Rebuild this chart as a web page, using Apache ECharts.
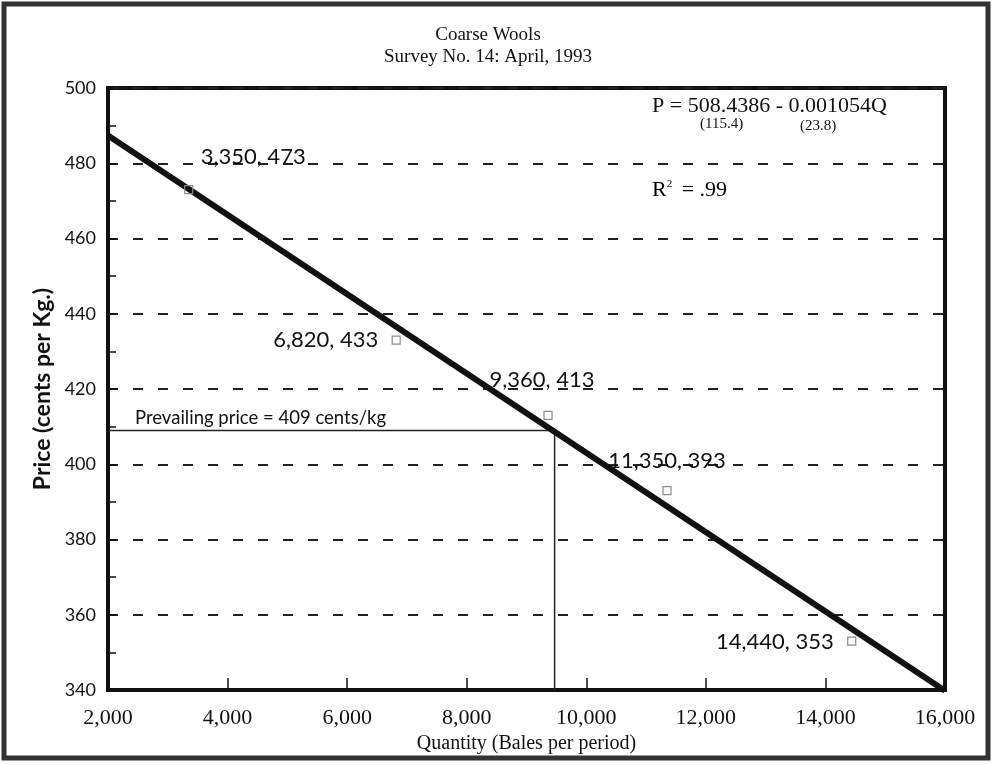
<!DOCTYPE html>
<html>
<head>
<meta charset="utf-8">
<script src="https://cdn.jsdelivr.net/npm/echarts@6/dist/echarts.min.js"></script>
<style>
  html, body { margin: 0; padding: 0; background: #fff; }
  #chart { width: 992px; height: 765px; }
</style>
</head>
<body>
<div id="chart"></div>
<script>
// Survey observations (quantity in bales, price in cents per kg)
const surveyQty = [3350, 6820, 9360, 11350, 14440];
const surveyPrice = [473, 433, 413, 393, 353];

// Fitted demand line end points
const fitQty = [2000, 16000];
const fitPrice = [487.4, 339.8];

// Prevailing price and the quantity where it meets the fitted line
const prevailingPrice = 409;
const prevailingQty = 9470;

// Axis ranges
const xTicks = [2000, 4000, 6000, 8000, 10000, 12000, 14000, 16000];
const yTicks = [340, 360, 380, 400, 420, 440, 460, 480, 500];

const SERIF = '"Liberation Serif", "DejaVu Serif", serif';
const SANS = 'Lato, "Noto Sans", sans-serif';
const INK = '#111';

// label placement for each survey point: offset from the marker and text alignment
const labelPlace = [
  { dx: 12, dy: -33, align: 'left' },
  { dx: -18, dy: 0, align: 'right' },
  { dx: -6, dy: -35, align: 'center' },
  { dx: 0, dy: -30, align: 'center' },
  { dx: -18, dy: 1, align: 'right' }
];

const fmt = v => v.toLocaleString('en-US');

const chart = echarts.init(document.getElementById('chart'));

const scatterData = surveyQty.map((q, i) => ({
  value: [q, surveyPrice[i]],
  label: {
    show: true,
    formatter: fmt(q) + ', ' + surveyPrice[i],
    position: 'inside',
    align: labelPlace[i].align,
    verticalAlign: 'middle',
    offset: [labelPlace[i].dx, labelPlace[i].dy],
    fontFamily: SANS,
    fontSize: 22,
    color: INK,
    opacity: 1,
    textBorderWidth: 0
  }
}));

const option = {
  animation: false,
  backgroundColor: '#fff',
  title: {
    text: 'Coarse Wools\nSurvey No. 14: April, 1993',
    left: 483,
    textAlign: 'center',
    top: 19,
    textStyle: {
      fontFamily: SERIF,
      fontSize: 19,
      fontWeight: 'normal',
      color: INK,
      lineHeight: 22
    }
  },
  grid: {
    left: 108,
    right: 47,
    top: 88,
    bottom: 75,
    show: true,
    borderColor: INK,
    borderWidth: 4,
    backgroundColor: 'transparent'
  },
  xAxis: {
    type: 'value',
    min: xTicks[0],
    max: xTicks[xTicks.length - 1],
    interval: 2000,
    name: 'Quantity (Bales per period)',
    nameLocation: 'middle',
    nameGap: 44,
    nameTextStyle: { fontFamily: SERIF, fontSize: 20, color: INK },
    axisLine: { show: true, lineStyle: { color: INK, width: 4 } },
    axisTick: { show: true, inside: true, length: 12, lineStyle: { color: INK, width: 1.5 } },
    axisLabel: {
      fontFamily: SERIF, fontSize: 22, color: INK, margin: 17,
      formatter: v => fmt(v)
    },
    splitLine: { show: false }
  },
  yAxis: {
    type: 'value',
    min: yTicks[0],
    max: yTicks[yTicks.length - 1],
    interval: 20,
    name: 'Price (cents per Kg.)',
    nameLocation: 'middle',
    nameGap: 54,
    nameRotate: 90,
    nameTextStyle: { fontFamily: SANS, fontSize: 23, color: INK, fontWeight: 'bold' },
    axisLine: { show: true, lineStyle: { color: INK, width: 4 } },
    axisTick: { show: true, inside: true, length: 8, lineStyle: { color: INK, width: 1.5 } },
    minorTick: { show: true, splitNumber: 2, length: 8, lineStyle: { color: INK, width: 1.5 } },
    axisLabel: { fontFamily: SANS, fontSize: 18, color: INK, margin: 12 },
    splitLine: { show: true, lineStyle: { color: '#222', width: 2, type: [10, 15] } }
  },
  series: [
    {
      type: 'line',
      data: fitQty.map((q, i) => [q, fitPrice[i]]),
      symbol: 'none',
      lineStyle: { color: INK, width: 6 },
      z: 5
    },
    {
      type: 'line',
      data: [[xTicks[0], prevailingPrice], [prevailingQty, prevailingPrice], [prevailingQty, yTicks[0]]],
      symbol: 'none',
      lineStyle: { color: '#222', width: 1.5 },
      z: 4
    },
    {
      type: 'scatter',
      data: scatterData,
      symbol: 'rect',
      symbolSize: 8,
      itemStyle: { color: 'rgba(255,255,255,0)', borderColor: '#8a8a8a', borderWidth: 1.2, opacity: 1 },
      z: 6
    }
  ],
  graphic: [
    {
      type: 'rect',
      shape: { x: 4, y: 4, width: 984, height: 754 },
      style: { fill: 'none', stroke: '#333', lineWidth: 5 }
    },
    {
      type: 'text',
      left: 652, top: 95,
      style: { text: 'P = 508.4386 - 0.001054Q', font: '22px ' + SERIF, fill: INK }
    },
    {
      type: 'text',
      left: 700, top: 117,
      style: { text: '(115.4)', font: '15px ' + SERIF, fill: INK }
    },
    {
      type: 'text',
      left: 800, top: 119,
      style: { text: '(23.8)', font: '15px ' + SERIF, fill: INK }
    },
    {
      type: 'text',
      left: 652, top: 179,
      style: {
        text: '{b|R}{s|2}{b| = .99}',
        rich: {
          b: { fontFamily: SERIF, fontSize: 22, color: INK },
          s: { fontFamily: SERIF, fontSize: 11, color: INK, verticalAlign: 'top', padding: [0, 4, 10, 0] }
        }
      }
    }
  ]
};

chart.setOption(option);

// Prevailing price caption, anchored to the horizontal reference line
const anchor = chart.convertToPixel({ gridIndex: 0 }, [xTicks[0], prevailingPrice]);
chart.setOption({
  graphic: option.graphic.concat([
    {
      type: 'text',
      x: anchor[0] + 27,
      y: anchor[1] - 3,
      style: {
        text: 'Prevailing price = ' + prevailingPrice + ' cents/kg',
        font: '18.5px ' + SANS,
        fill: INK,
        verticalAlign: 'bottom'
      }
    }
  ])
});
</script>
</body>
</html>
